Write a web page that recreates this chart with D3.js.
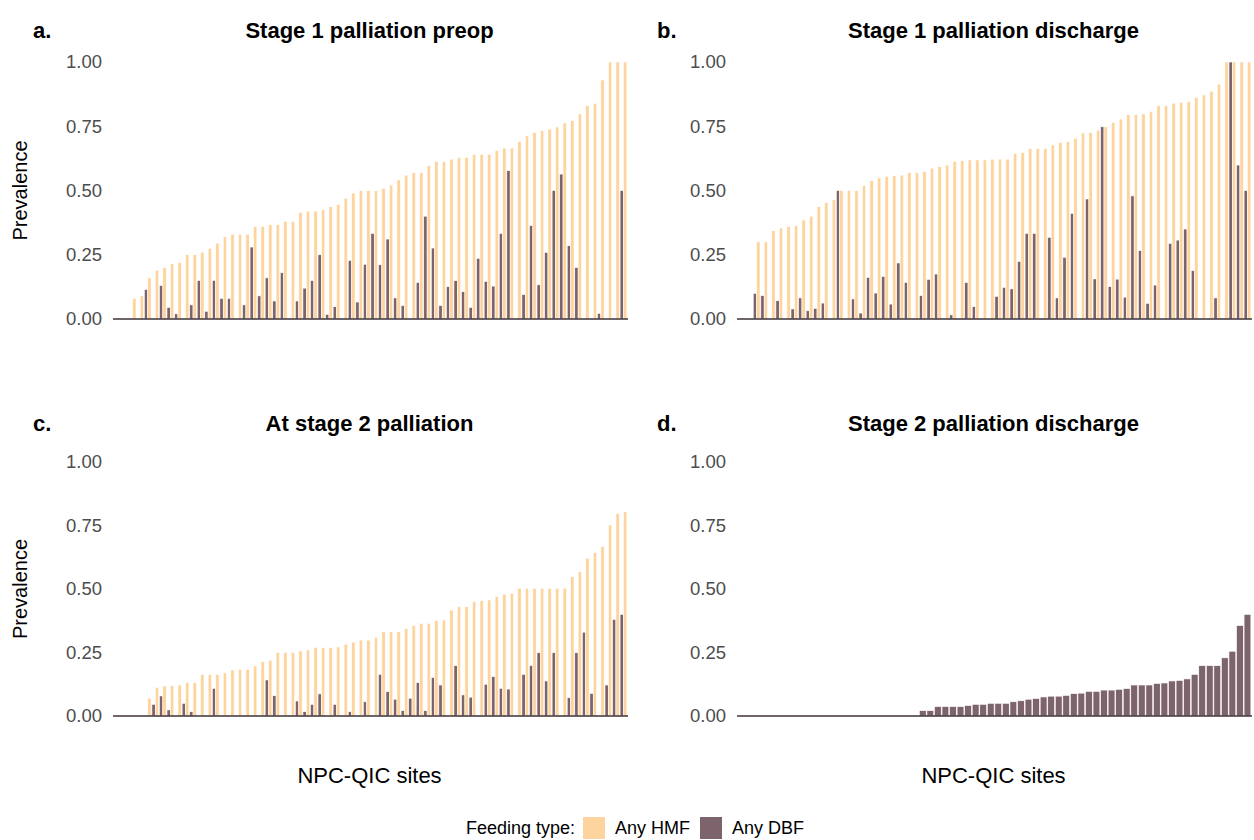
<!DOCTYPE html>
<html>
<head>
<meta charset="utf-8">
<script src="https://cdn.jsdelivr.net/npm/d3@7"></script>
<style>
  body { margin: 0; background: #fff; }
  text { font-family: "Liberation Sans", Arial, sans-serif; }
</style>
</head>
<body>
<svg id="chart" width="1254" height="840"></svg>
<script>
// values, sites sorted by HMF prevalence
const hmfA = [0,0,0.08,0.09,0.16,0.19,0.20,0.215,0.22,0.25,0.25,0.26,0.275,0.295,0.32,0.33,0.33,0.33,0.36,0.36,0.367,0.367,0.38,0.38,0.415,0.42,0.42,0.425,0.437,0.446,0.47,0.49,0.50,0.50,0.50,0.508,0.521,0.541,0.56,0.569,0.569,0.597,0.613,0.613,0.622,0.629,0.629,0.641,0.641,0.641,0.656,0.665,0.665,0.691,0.713,0.726,0.733,0.739,0.747,0.763,0.773,0.798,0.83,0.839,0.93,1,1,1]
const dbfA = [0,0,0,0,0.115,0,0.13,0.045,0.02,0,0.055,0.15,0.03,0.15,0.08,0.08,0,0.055,0.28,0.09,0.16,0.07,0.18,0,0.07,0.12,0.15,0.25,0.018,0.048,0,0.228,0.066,0.213,0.333,0.211,0.311,0.082,0.052,0,0.142,0.40,0.276,0.052,0.126,0.149,0.106,0.045,0.236,0.146,0.128,0.333,0.577,0,0.095,0.363,0.133,0.259,0.50,0.564,0.285,0.20,0,0,0.022,0,0,0.50]

const hmfB = [0,0,0.30,0.30,0.344,0.354,0.36,0.363,0.385,0.40,0.437,0.454,0.464,0.50,0.50,0.50,0.519,0.538,0.549,0.555,0.558,0.56,0.57,0.57,0.574,0.587,0.593,0.599,0.613,0.616,0.619,0.619,0.619,0.622,0.622,0.622,0.644,0.648,0.664,0.664,0.664,0.677,0.687,0.691,0.703,0.724,0.726,0.735,0.748,0.765,0.778,0.795,0.795,0.798,0.808,0.83,0.83,0.84,0.843,0.847,0.862,0.872,0.886,0.914,1,1,1,1]
const dbfB = [0,0,0.10,0.091,0,0.071,0,0.039,0.082,0.032,0.041,0.062,0,0.50,0,0.078,0.023,0.162,0.101,0.166,0.058,0.218,0.142,0,0.091,0.154,0.175,0,0.016,0,0.142,0.048,0,0,0.088,0.123,0.117,0.224,0.333,0.333,0,0.318,0.082,0.24,0.411,0,0.467,0.156,0.748,0.126,0.155,0.085,0.479,0.266,0.061,0.132,0,0.294,0.307,0.35,0.188,0,0,0.082,0,1,0.599,0.50]

const hmfC = [0,0,0,0,0.07,0.113,0.118,0.12,0.122,0.131,0.131,0.164,0.164,0.164,0.17,0.181,0.184,0.184,0.197,0.214,0.22,0.251,0.251,0.251,0.256,0.26,0.27,0.27,0.27,0.272,0.283,0.291,0.299,0.299,0.31,0.332,0.332,0.332,0.345,0.356,0.365,0.365,0.375,0.378,0.417,0.43,0.43,0.45,0.454,0.457,0.47,0.48,0.483,0.503,0.503,0.503,0.503,0.503,0.503,0.503,0.548,0.568,0.621,0.643,0.667,0.752,0.798,0.804]
const dbfC = [0,0,0,0,0,0.046,0.079,0.024,0,0.05,0.017,0,0,0.109,0,0,0,0,0,0,0.142,0.08,0,0,0.059,0.017,0.046,0.087,0,0.046,0,0.017,0,0.056,0,0.164,0.096,0.066,0.021,0.07,0.131,0.021,0.152,0.122,0,0.198,0.083,0.074,0,0.125,0.155,0.109,0.106,0,0.164,0.198,0.249,0.138,0.249,0,0.072,0.249,0.33,0.089,0,0.122,0.38,0.40]

const hmfD = []
const dbfD = [0,0,0,0,0,0,0,0,0,0,0,0,0,0,0,0,0,0,0,0,0,0,0,0,0.021,0.021,0.037,0.037,0.037,0.037,0.041,0.046,0.046,0.05,0.05,0.05,0.056,0.06,0.066,0.069,0.075,0.078,0.078,0.081,0.088,0.09,0.097,0.097,0.102,0.102,0.105,0.108,0.122,0.122,0.122,0.128,0.13,0.138,0.14,0.146,0.164,0.198,0.198,0.198,0.229,0.255,0.356,0.40]

const panelTags = ["a.", "b.", "c.", "d."]
const panelTitles = ["Stage 1 palliation preop", "Stage 1 palliation discharge", "At stage 2 palliation", "Stage 2 palliation discharge"]
const yTicks = [0, 0.25, 0.5, 0.75, 1]
const feedingTypes = ["Any HMF", "Any DBF"]

const colors = { "Any HMF": "#fdd49e", "Any DBF": "#7d646c" }

const panels = [
    { hmf: hmfA, dbf: dbfA, left: 113, top: 62, bottom: 319, titleY: 38 },
    { hmf: hmfB, dbf: dbfB, left: 737, top: 62, bottom: 319, titleY: 38 },
    { hmf: hmfC, dbf: dbfC, left: 113, top: 462, bottom: 716, titleY: 431 },
    { hmf: hmfD, dbf: dbfD, left: 737, top: 462, bottom: 716, titleY: 431 }
]
const panelWidth = 515

const svg = d3.select("#chart")

panels.forEach((p, i) => {
    const sites = d3.range(1, p.dbf.length + 1)
    const g = svg.append("g")

    const x = d3.scaleBand()
        .domain(sites)
        .range([p.left, p.left + panelWidth])
        .paddingInner(0)
        .paddingOuter(0.1)

    const y = d3.scaleLinear().domain([0, 1]).range([p.bottom, p.top])

    // dodge: DBF on the left, HMF on the right; one group only -> full width
    const groups = p.hmf.length ? ["Any DBF", "Any HMF"] : ["Any DBF"]
    const sub = d3.scaleBand()
        .domain(groups)
        .range([x.bandwidth() * 0.05, x.bandwidth() * 0.95])

    const rows = []
    sites.forEach((s, j) => {
        rows.push({ site: s, type: "Any DBF", value: p.dbf[j] })
        if (p.hmf.length) rows.push({ site: s, type: "Any HMF", value: p.hmf[j] })
    })

    g.selectAll("rect.bar")
        .data(rows.filter(d => d.value > 0))
        .join("rect")
        .attr("class", "bar")
        .attr("x", d => x(d.site) + sub(d.type))
        .attr("width", sub.bandwidth())
        .attr("y", d => y(d.value))
        .attr("height", d => y(0) - y(d.value))
        .attr("fill", d => colors[d.type])
        .attr("stroke", "#fff")
        .attr("stroke-width", 0.6)

    // baseline
    g.append("line")
        .attr("x1", p.left).attr("x2", p.left + panelWidth)
        .attr("y1", y(0)).attr("y2", y(0))
        .attr("stroke", "#3b3338")
        .attr("stroke-width", 1.3)

    const yAxis = g.append("g")
        .attr("transform", `translate(${p.left},0)`)
        .call(d3.axisLeft(y).tickValues(yTicks).tickFormat(d3.format(".2f")).tickSize(0).tickPadding(11))
    yAxis.select(".domain").remove()
    yAxis.selectAll("text")
        .attr("fill", "#4d4d4d")
        .style("font-size", "18.5px")
        .style("font-family", "Liberation Sans, Arial, sans-serif")

    // tag and title
    g.append("text")
        .attr("x", p.left - 80).attr("y", p.titleY)
        .attr("font-size", 22).attr("font-weight", "bold")
        .text(panelTags[i])
    g.append("text")
        .attr("x", p.left + panelWidth / 2 - 1).attr("y", p.titleY)
        .attr("text-anchor", "middle")
        .attr("font-size", 22).attr("font-weight", "bold")
        .text(panelTitles[i])

    if (i % 2 === 0) {
        g.append("text")
            .attr("transform", `translate(27,${(p.top + p.bottom) / 2}) rotate(-90)`)
            .attr("text-anchor", "middle")
            .attr("font-size", 20)
            .text("Prevalence")
    }
    if (i >= 2) {
        g.append("text")
            .attr("x", p.left + panelWidth / 2 - 1).attr("y", 783)
            .attr("text-anchor", "middle")
            .attr("font-size", 22)
            .text("NPC-QIC sites")
    }
})

// legend
const legend = svg.append("g").attr("transform", "translate(0,828)")
legend.append("text")
    .attr("x", 575).attr("y", 6)
    .attr("text-anchor", "end")
    .attr("font-size", 18)
    .text("Feeding type:")
let lx = 583
feedingTypes.forEach(t => {
    legend.append("rect")
        .attr("x", lx).attr("y", -11)
        .attr("width", 22).attr("height", 22)
        .attr("fill", colors[t])
    legend.append("text")
        .attr("x", lx + 32).attr("y", 6)
        .attr("font-size", 18)
        .text(t)
    lx += 117
})
</script>
</body>
</html>
